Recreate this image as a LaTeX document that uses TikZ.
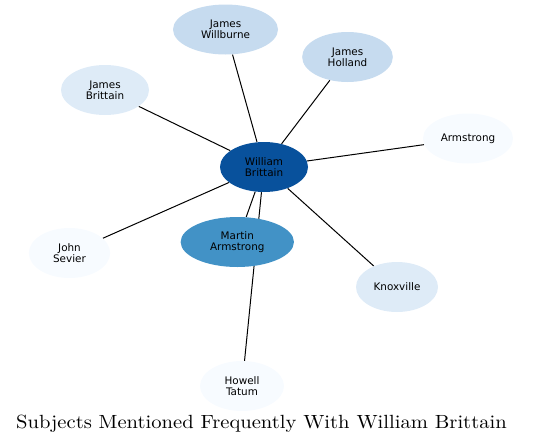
\documentclass[tikz,border=0pt]{standalone}
\usepackage{fontspec}
\newfontfamily\labelfont{DejaVu Sans}
\newfontfamily\titlefont{lmroman10-regular}[Extension=.otf, FakeStretch=1.08]
\usetikzlibrary{shapes.geometric,backgrounds}
\definecolor{blueA}{HTML}{08519C}
\definecolor{blueB}{HTML}{4292C6}
\definecolor{blueC}{HTML}{C6DBEF}
\definecolor{blueD}{HTML}{DEEBF7}
\definecolor{blueE}{HTML}{F7FBFF}

\begin{document}
\begin{tikzpicture}[x=0.75pt, y=-0.75pt,
	subj/.style={ellipse, inner sep=0pt, minimum height=37.5pt, align=center, font=\labelfont\fontsize{7.8}{8.4}\selectfont},
	link/.style={line width=0.75pt}]
	\useasboundingbox (0,0) rectangle (543,447);
	\node[subj, fill=blueA, minimum width=66pt] (wb) at (264,167) {William\\Brittain};
	\foreach \n/\x/\y/\w/\c/\t in {jw/225.5/29.5/78.75/blueC/James\\Willburne, jh/347.5/57/68/blueC/James\\Holland,
		jb/105/90/66/blueD/James\\Brittain, ar/468/138.5/67.5/blueE/Armstrong, js/69.5/253/61/blueE/John\\Sevier,
		ma/237.3/242/85/blueB/Martin\\Armstrong, kx/397/287/61.5/blueD/Knoxville, ht/242/386/63/blueE/Howell\\Tatum} {
		\node[subj, fill=\c, minimum width=\w pt] (\n) at (\x,\y) {\t};
	}
	% edges go behind the nodes
	\begin{scope}[on background layer]
		\foreach \n in {jw,jh,jb,ar,js,ma,kx,ht} {\draw[link] (wb) -- (\n);}
	\end{scope}
	\node[font=\titlefont\fontsize{14.3}{16}\selectfont] (title) at (261.5,424) {Subjects Mentioned Frequently With William Brittain};
\end{tikzpicture}
\end{document}
